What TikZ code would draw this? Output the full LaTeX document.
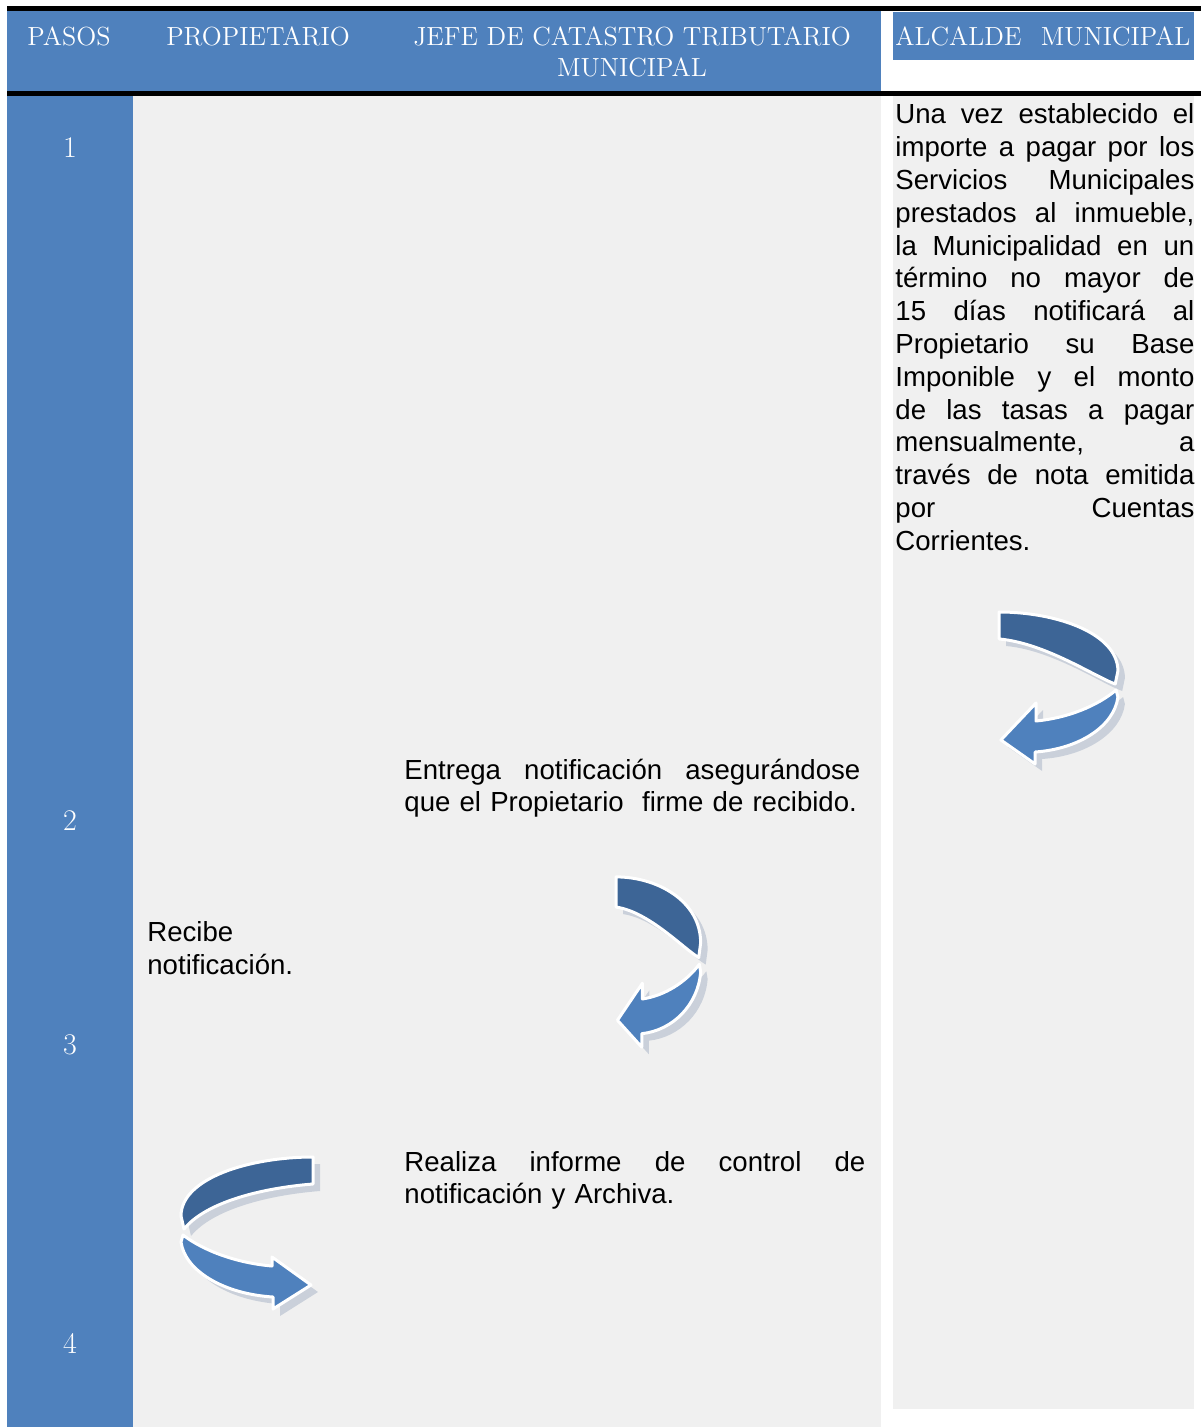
\documentclass[tikz,border=0pt]{standalone}
\usepackage{fontspec}
\newfontfamily\arialfont{Liberation Sans}
\usepackage{tikz}
\usetikzlibrary{calc}
\definecolor{hdrblue}{HTML}{4F81BD}
\definecolor{bandblue}{HTML}{3D6596}
\definecolor{cellgray}{HTML}{F0F0F0}
\definecolor{shadowblue}{HTML}{8496B3}
% one justified line of a fixed width
\newcommand{\jline}[2][149.5pt]{\makebox[#1][s]{\spaceskip=0.3em plus 1fil\relax #2}\\}

\begin{document}
\begin{tikzpicture}[x=0.5pt,y=-0.5pt,
  hdr/.style={text=white,inner sep=0,anchor=base,font=\fontsize{13.1}{15.6}\selectfont},
  num/.style={text=white,inner sep=0,anchor=base,font=\fontsize{15}{18}\selectfont},
  body/.style={inner sep=0,anchor=base west,align=left,font=\arialfont\fontsize{13.8}{16.4}\selectfont},
  band/.style={line width=1.5pt,line join=round}]
  \useasboundingbox (0,0) rectangle (1201,1427);
  \fill[white] (0,0) rectangle (1201,1427);

  % cells
  \fill[hdrblue] (7,11) rectangle (881,91);
  \fill[hdrblue] (893,12) rectangle (1194,60);
  \fill[hdrblue] (7,96) rectangle (133,1427);
  \fill[cellgray] (133,96) rectangle (881,1427);
  \fill[cellgray] (893,96) rectangle (1194,1409);

  % rules
  \fill[black] (7,6) rectangle (1201,11);
  \fill[black] (7,91) rectangle (1201,96);

  % header
  \node[hdr] (hPasos) at (69,46) {PASOS};
  \node[hdr] (hProp) at (258,46) {PROPIETARIO};
  \node[hdr,align=center] (hJefe) at (632,77) {JEFE DE CATASTRO TRIBUTARIO\\MUNICIPAL};
  \node[hdr,anchor=base west,text width=160pt] (hAlcalde) at (895,46)
    {\jline[147.5pt]{ALCALDE MUNICIPAL}};

  % step numbers
  \node[num] (s1) at (70,158) {1};
  \node[num] (s2) at (70,830) {2};
  \node[num] (s3) at (70,1054) {3};
  \node[num] (s4) at (70,1353) {4};

  % texts
  \node[body,text width=160pt] (tAlcalde) at (895,124) {%
    \jline{Una vez establecido el}
    \jline{importe a pagar por los}
    \jline{Servicios Municipales}
    \jline{prestados al inmueble,}
    \jline{la Municipalidad en un}
    \jline{término no mayor de}
    \jline{15 días notificará al}
    \jline{Propietario su Base}
    \jline{Imponible y el monto}
    \jline{de las tasas a pagar}
    \jline{mensualmente, a}
    \jline{través de nota emitida}
    \jline{por Cuentas}
    Corrientes.};
  \node[body,text width=240pt] (tEntrega) at (404,779) {%
    \jline[228pt]{Entrega notificación asegurándose}
    que el Propietario~ firme de recibido.};
  \node[body] (tRecibe) at (147,974) {Recibe\\notificación.};
  \node[body,text width=240pt] (tRealiza) at (404,1171) {%
    \jline[230.5pt]{Realiza informe de control de}
    notificación y Archiva.};

  % curved arrows: shadow pass, then ribbon
  \foreach \ox/\oy/\sx/\sy/\cy/\hy in {1117/613/-0.9/1/64/90, 700/878/-0.64/1.12/64/94, 182/1158/1/1/44/99}{
    \foreach \d/\dc/\fa/\fb/\op in {7/none/shadowblue/shadowblue/0.35, 0/white/bandblue/hdrblue/1}{
      \begin{scope}[shift={(\ox+\d,\oy+\d)},xscale=\sx,yscale=\sy,opacity=\op]
        \filldraw[band,draw=\dc,fill=\fa] (131,-1) .. controls (68,-1) and (-1,20) .. (-1,58) -- (2,71)
          .. controls (24,\cy) and (80,30) .. (131,26) -- cycle;
        \filldraw[band,draw=\dc,fill=\fb] (1,77) .. controls (22,93) and (55,105) .. (90,108) -- (90,\hy)
          -- (129,127) -- (91,151) -- (91,139) .. controls (42,136) and (3,113) .. (-1,84) -- cycle;
      \end{scope}
    }
  }
\end{tikzpicture}
\end{document}
